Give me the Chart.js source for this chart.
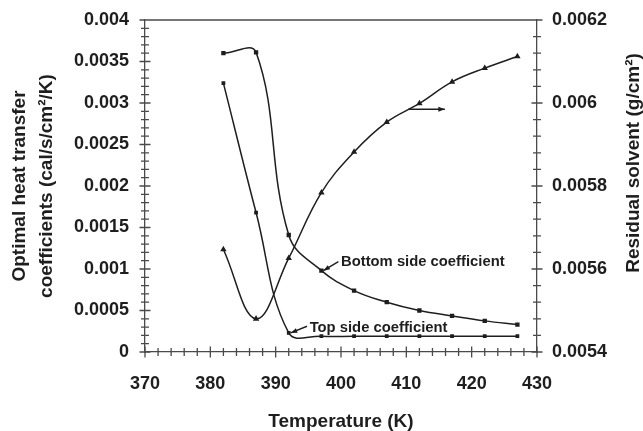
<!DOCTYPE html>
<html>
<head>
<meta charset="utf-8">
<script src="https://cdn.jsdelivr.net/npm/chart.js@4.4.0/dist/chart.umd.min.js"></script>
<style>
  html, body { margin: 0; padding: 0; background: #fff; }
  #wrap { width: 643px; height: 431px; }
</style>
</head>
<body>
<div id="wrap"><canvas id="chart"></canvas></div>
<script>
'use strict';

/* ─── Data ───────────────────────────────────────────────── */
const temps = [382, 387, 392, 397, 402, 407, 412, 417, 422, 427];
const bottomCoef = [0.0036, 0.00361, 0.00141, 0.00098, 0.00074, 0.0006, 0.0005, 0.000435, 0.000375, 0.00033];
const topCoef = [0.00324, 0.00168, 0.00023, 0.00019, 0.00019, 0.00019, 0.00019, 0.00019, 0.00019, 0.00019];
const residual = [0.005647, 0.00548, 0.005626, 0.005784, 0.005882, 0.005954, 0.005999, 0.006051, 0.006084, 0.006112];

const xTicks = [370, 380, 390, 400, 410, 420, 430];
const leftTicks = ['0', '0.0005', '0.001', '0.0015', '0.002', '0.0025', '0.003', '0.0035', '0.004'];
const rightTicks = ['0.0054', '0.0056', '0.0058', '0.006', '0.0062'];

/* ─── Style ──────────────────────────────────────────────── */
const INK = '#1e1e1e';
const AXIS = '#4a4a4a';
const FAMILY = "'Liberation Sans', Arial, sans-serif";
const tickFont = { family: FAMILY, size: 18, weight: 'bold' };
const titleFont = { family: FAMILY, size: 19, weight: 'bold' };
const noteFont = `bold 14.8px ${FAMILY}`;

const points = (ys) => temps.map((t, i) => ({ x: t, y: ys[i] }));

/* ─── Tick marks crossing the axes + top frame ───────────── */
const axisMarks = {
  id: 'axisMarks',
  afterDraw(chart) {
    const { ctx, chartArea: a, scales } = chart;
    ctx.save();
    ctx.strokeStyle = AXIS;
    ctx.lineWidth = 1.3;

    ctx.beginPath();
    ctx.moveTo(a.left, a.top);
    ctx.lineTo(a.right, a.top);

    for (let i = 0; i <= 40; i++) {
      const y = scales.y.getPixelForValue(i * 0.0001);
      const len = i % 5 === 0 ? 5.5 : 4;
      ctx.moveTo(a.left - len, y);
      ctx.lineTo(a.left + len, y);
    }
    for (let i = 0; i <= 20; i++) {
      const y = scales.y2.getPixelForValue(0.0054 + i * 0.00004);
      const len = i % 5 === 0 ? 5.5 : 4;
      ctx.moveTo(a.right - len, y);
      ctx.lineTo(a.right + len, y);
    }
    for (let i = 0; i <= 30; i++) {
      const x = scales.x.getPixelForValue(370 + i * 2);
      const len = i % 5 === 0 ? 5.5 : 4;
      ctx.moveTo(x, a.bottom - len);
      ctx.lineTo(x, a.bottom + len);
    }
    ctx.stroke();

    // right axis title, reading bottom to top
    ctx.fillStyle = INK;
    ctx.font = `bold ${titleFont.size}px ${FAMILY}`;
    ctx.textAlign = 'center';
    ctx.textBaseline = 'middle';
    ctx.translate(634, 163);
    ctx.rotate(-Math.PI / 2);
    ctx.fillText('Residual solvent (g/cm\u00B2)', 0, 0);
    ctx.restore();
  },
};

/* ─── Curve labels with leader arrows ────────────────────── */
function arrow(ctx, x1, y1, x2, y2) {
  ctx.beginPath();
  ctx.moveTo(x1, y1);
  ctx.lineTo(x2, y2);
  ctx.stroke();
  const ang = Math.atan2(y2 - y1, x2 - x1);
  ctx.beginPath();
  ctx.moveTo(x2, y2);
  ctx.lineTo(x2 - 7 * Math.cos(ang - 0.35), y2 - 7 * Math.sin(ang - 0.35));
  ctx.lineTo(x2 - 7 * Math.cos(ang + 0.35), y2 - 7 * Math.sin(ang + 0.35));
  ctx.closePath();
  ctx.fill();
}

const curveNotes = {
  id: 'curveNotes',
  afterDatasetsDraw(chart) {
    const { ctx, scales: { x, y, y2 } } = chart;
    ctx.save();
    ctx.strokeStyle = INK;
    ctx.fillStyle = INK;
    ctx.lineWidth = 1.4;
    ctx.font = noteFont;
    ctx.textBaseline = 'middle';
    ctx.textAlign = 'left';

    ctx.fillText('Bottom side coefficient', x.getPixelForValue(400), y.getPixelForValue(0.00109));
    arrow(ctx, x.getPixelForValue(399.6), y.getPixelForValue(0.00109),
      x.getPixelForValue(397.3), y.getPixelForValue(0.00098));

    ctx.fillText('Top side coefficient', x.getPixelForValue(395.2), y.getPixelForValue(0.000285));
    arrow(ctx, x.getPixelForValue(394.8), y.getPixelForValue(0.00031),
      x.getPixelForValue(392.3), y.getPixelForValue(0.00023));

    arrow(ctx, x.getPixelForValue(410.3), y2.getPixelForValue(0.005985),
      x.getPixelForValue(415.9), y2.getPixelForValue(0.005985));
    ctx.restore();
  },
};

/* ─── Chart ──────────────────────────────────────────────── */
const lineStyle = {
  borderColor: INK,
  backgroundColor: INK,
  borderWidth: 1.5,
  tension: 0.4,
  fill: false,
  pointBorderColor: INK,
  pointBackgroundColor: INK,
};

// vertical axes: fixed width, and no extra top padding from the label offset
const fixWidth = (w) => (s) => { s.width = w; s.paddingTop = 0; };

new Chart(document.getElementById('chart'), {
  type: 'line',
  data: {
    datasets: [
      { ...lineStyle, label: 'Bottom side coefficient', data: points(bottomCoef), yAxisID: 'y', pointStyle: 'rect', pointRadius: 2 },
      { ...lineStyle, label: 'Top side coefficient', data: points(topCoef), yAxisID: 'y', pointStyle: 'rect', pointRadius: 1.6 },
      { ...lineStyle, label: 'Residual solvent', data: points(residual), yAxisID: 'y2', pointStyle: 'triangle', pointRadius: 2.2 },
    ],
  },
  plugins: [axisMarks, curveNotes],
  options: {
    responsive: true,
    maintainAspectRatio: false,
    animation: false,
    layout: { padding: { top: 20, left: 0, right: 0, bottom: 0 } },
    plugins: { legend: { display: false }, tooltip: { enabled: false } },
    scales: {
      x: {
        type: 'linear',
        min: 370,
        max: 430,
        afterBuildTicks: (s) => { s.ticks = xTicks.map((v) => ({ value: v })); },
        afterFit: (s) => { s.height = 79; },
        grid: { display: false, drawTicks: false, tickLength: 0 },
        border: { display: true, color: AXIS, width: 1.3 },
        ticks: { color: INK, font: tickFont, padding: 21, maxRotation: 0, autoSkip: false },
        title: {
          display: true, text: 'Temperature (K)', color: INK,
          font: { ...titleFont, lineHeight: 1 }, padding: { top: 0, bottom: 0 },
        },
      },
      y: {
        position: 'left',
        min: 0,
        max: 0.004,
        afterBuildTicks: (s) => { s.ticks = leftTicks.map((t) => ({ value: parseFloat(t) })); },
        afterFit: fixWidth(145),
        grid: { display: false, drawTicks: false, tickLength: 0 },
        border: { display: true, color: AXIS, width: 1.3 },
        ticks: {
          color: INK, font: tickFont, padding: 16, autoSkip: false,
          callback: (v, i) => leftTicks[i],
        },
        title: {
          display: true,
          text: ['Optimal heat transfer', 'coefficients (cal/s/cm\u00B2/K)'],
          color: INK,
          font: { ...titleFont, lineHeight: 1.42 },
          padding: { top: 6.5, bottom: 0 },
        },
      },
      y2: {
        position: 'right',
        min: 0.0054,
        max: 0.0062,
        afterBuildTicks: (s) => { s.ticks = rightTicks.map((t) => ({ value: parseFloat(t) })); },
        afterFit: fixWidth(106),
        grid: { display: false, drawTicks: false, tickLength: 0 },
        border: { display: true, color: AXIS, width: 1.3 },
        ticks: {
          color: INK, font: tickFont, padding: 15, autoSkip: false,
          callback: (v, i) => rightTicks[i],
        },
      },
    },
  },
});
</script>
</body>
</html>
